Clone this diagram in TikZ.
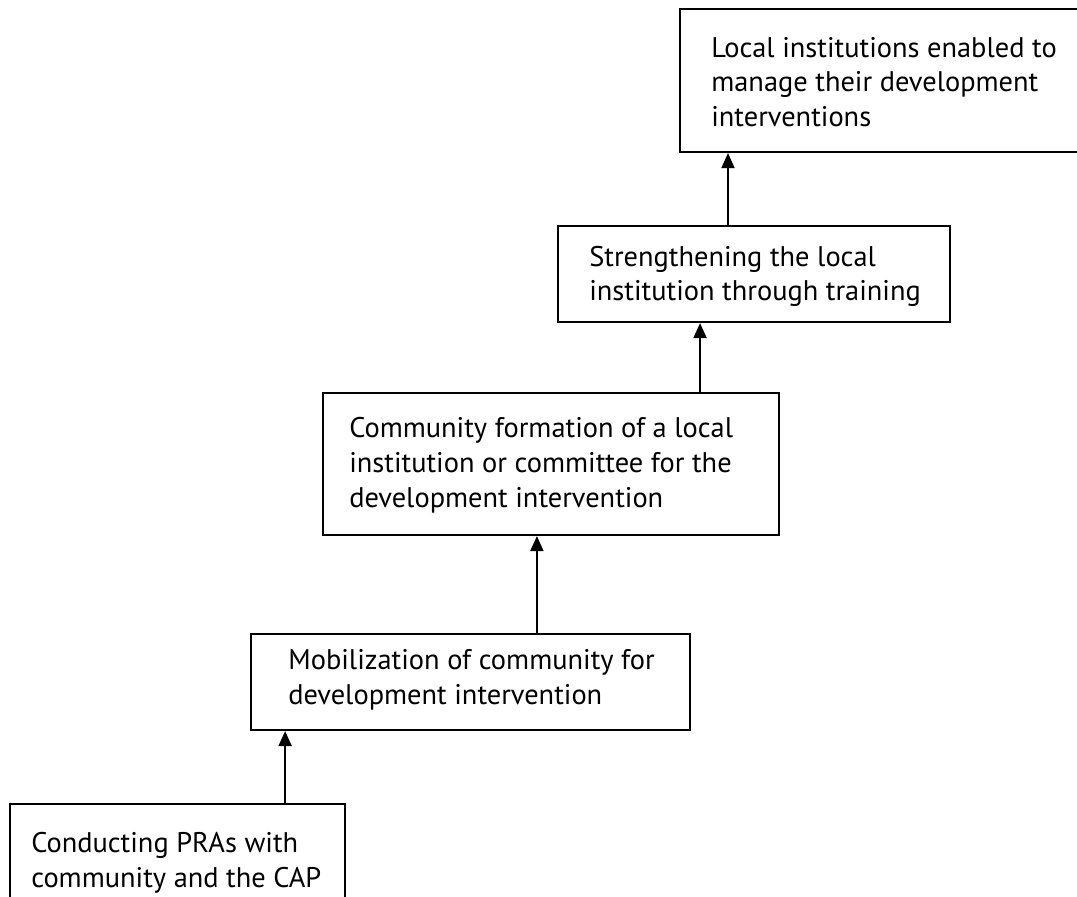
\documentclass[tikz,border=0pt]{standalone}
\usepackage{fontspec}
\setmainfont{PT Sans}
\usepackage{tikz}
\usetikzlibrary{arrows.meta}

\begin{document}
\begin{tikzpicture}[
    x=0.025cm, y=-0.025cm,
    box/.style={draw, line width=1.3pt, inner sep=0pt},
    boxtext/.style={anchor=west, align=left, inner sep=0pt,
                    font=\fontsize{20.2pt}{24.8pt}\selectfont},
    arrow/.style={line width=1.9pt, -{Triangle[length=0.38cm, width=0.32cm]}}
]

% Frame
\clip (0,0) rectangle (1077,896);

% Local institutions
\node[box, minimum width=10.05cm, minimum height=3.575cm] (local) at (881,80.5) {};
\node[boxtext] (localtxt) at ([xshift=0.8cm, yshift=-0.04cm]local.west)
    {Local institutions enabled to\\manage their development\\interventions};

% Strengthening
\node[box, minimum width=9.8cm, minimum height=2.4cm] (strengthen) at (754,274) {};
\node[boxtext] (strengthentxt) at ([xshift=0.8cm, yshift=-0.06cm]strengthen.west)
    {Strengthening the local\\institution through training};

% Community formation
\node[box, minimum width=11.4cm, minimum height=3.55cm] (formation) at (551,464) {};
\node[boxtext] (formationtxt) at ([xshift=0.675cm, yshift=-0.03cm]formation.west)
    {Community formation of a local\\institution or committee for the\\development intervention};

% Mobilization
\node[box, minimum width=10.975cm, minimum height=2.4cm] (mobilize) at (470.5,682) {};
\node[boxtext] (mobilizetxt) at ([xshift=0.95cm, yshift=0.06cm]mobilize.west)
    {Mobilization of community for\\development intervention};

% Conducting PRAs
\node[box, minimum width=8.375cm, minimum height=2.775cm] (conduct) at (177.5,859.5) {};
\node[boxtext] (conducttxt) at ([xshift=0.55cm, yshift=-0.075cm]conduct.west)
    {Conducting PRAs with\\community and the CAP};

% Arrows
\draw[arrow] ([xshift=2.69cm]conduct.north) -- ([xshift=2.69cm]conduct.north |- mobilize.south);
\draw[arrow] ([xshift=1.66cm]mobilize.north) -- ([xshift=1.66cm]mobilize.north |- formation.south);
\draw[arrow] ([xshift=3.725cm]formation.north) -- ([xshift=3.725cm]formation.north |- strengthen.south);
\draw[arrow] ([xshift=-0.65cm]strengthen.north) -- ([xshift=-0.65cm]strengthen.north |- local.south);

\end{tikzpicture}
\end{document}
